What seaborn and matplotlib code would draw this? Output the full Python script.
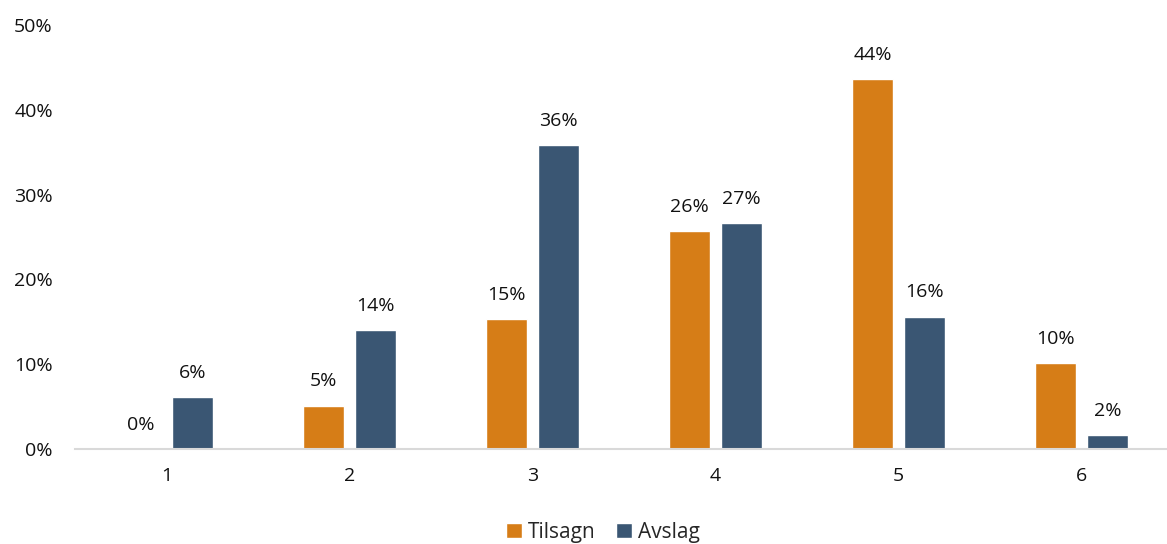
import matplotlib
matplotlib.use("Agg")
import matplotlib.pyplot as plt
import seaborn as sns
import pandas as pd

categories = ["1", "2", "3", "4", "5", "6"]
tilsagn = [0.0, 0.051, 0.153, 0.257, 0.436, 0.101]
avslag = [0.061, 0.140, 0.358, 0.266, 0.156, 0.016]
series_names = ["Tilsagn", "Avslag"]
colors = ["#D67D17", "#3A5673"]

df = pd.DataFrame({
    "Kategori": categories * 2,
    "Andel": tilsagn + avslag,
    "Serie": [series_names[0]] * len(categories) + [series_names[1]] * len(categories),
})

sns.set_theme(style="white")
plt.rcParams["font.family"] = ["Open Sans", "DejaVu Sans"]

fig = plt.figure(figsize=(11.67, 5.44), dpi=100)
ax = fig.add_axes([75 / 1167, 95 / 544, 1098 / 1167, 424 / 544])

sns.barplot(data=df, x="Kategori", y="Andel", hue="Serie", palette=colors,
            width=0.568, gap=0.21, ax=ax, saturation=1, legend=True)

for cont in ax.containers:
    ax.bar_label(cont, labels=[f"{v * 100:.0f}%" for v in cont.datavalues],
                 padding=11, fontsize=14, color="#111111")

ax.set_ylim(0, 0.5)
ax.set_xlim(-0.5, 5.5)
ax.set_yticks([0, 0.1, 0.2, 0.3, 0.4, 0.5])
ax.set_yticklabels([f"{int(t * 100)}%" for t in [0, 0.1, 0.2, 0.3, 0.4, 0.5]])
ax.set_xlabel("")
ax.set_ylabel("")
ax.tick_params(axis="both", labelsize=14, colors="#111111", length=0)
ax.tick_params(axis="y", pad=16)
ax.tick_params(axis="x", pad=13)

for s in ["top", "right", "left"]:
    ax.spines[s].set_visible(False)
ax.spines["bottom"].set_color("#D9D9D9")
ax.spines["bottom"].set_linewidth(1.5)

ax.legend(loc="lower center", bbox_to_anchor=(0.481, -0.265), ncol=2,
          frameon=False, fontsize=15, handlelength=0.75, handleheight=0.75,
          handletextpad=0.3, columnspacing=1.0)

fig.savefig("out.png", dpi=100)
